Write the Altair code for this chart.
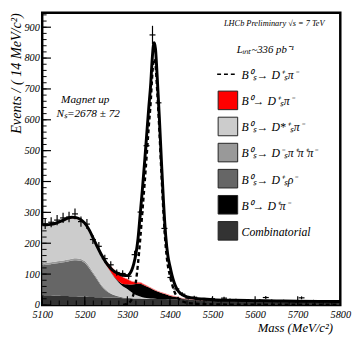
import altair as alt
import pandas as pd
import numpy as np

# ---------------- data ----------------
# background component grid (MeV/c^2)
mass_grid = [5100, 5110, 5120, 5130, 5140, 5150, 5160, 5170, 5180, 5190,
             5200, 5210, 5220, 5230, 5240, 5250, 5260, 5270, 5280, 5290,
             5300, 5310, 5320, 5330, 5340, 5350, 5360, 5370, 5380, 5390,
             5400, 5410, 5420, 5430, 5440, 5450, 5460,
             5480, 5500, 5550, 5600, 5650, 5700, 5750, 5800]

comb = [32, 31, 31, 30, 30, 29, 29, 28, 28, 27,
        27, 26, 26, 25, 25, 24, 24, 23, 23, 22,
        22, 22, 21, 21, 20, 20, 20, 19, 19, 19,
        18, 18, 18, 17, 17, 17, 17,
        16, 15, 14, 13, 12, 12, 11, 10]
dsrho = [96, 99, 101, 104, 106, 109, 112, 116, 117, 116,
         109, 94, 74, 55, 35, 22, 13, 8, 4, 2,
         1, 0, 0, 0, 0, 0, 0, 0, 0, 0,
         0, 0, 0, 0, 0, 0, 0,
         0, 0, 0, 0, 0, 0, 0, 0]
dspipipi = [6, 6, 6, 6, 6, 6, 6, 6, 6, 6,
            6, 6, 5, 5, 4, 3, 2, 1, 1, 0,
            0, 0, 0, 0, 0, 0, 0, 0, 0, 0,
            0, 0, 0, 0, 0, 0, 0,
            0, 0, 0, 0, 0, 0, 0, 0]
dsstar = [124, 122, 121, 122, 125, 129, 131, 131, 129, 125,
          120, 114, 107, 98, 91, 81, 69, 56, 44, 36,
          29, 19, 11, 6, 3, 2, 1, 0, 0, 0,
          0, 0, 0, 0, 0, 0, 0,
          0, 0, 0, 0, 0, 0, 0, 0]
b0dpi = [0, 0, 0, 0, 0, 0, 0, 0, 0, 0,
         0, 0, 0, 0, 0, 0, 1, 2, 4, 8,
         15, 25, 36, 42, 40, 35, 29, 25, 20, 16,
         12, 9, 6, 4, 2, 1, 0,
         0, 0, 0, 0, 0, 0, 0, 0]
b0dspi = [0, 0, 0, 0, 0, 0, 0, 0, 0, 0,
          0, 0, 1, 3, 7, 12, 18, 22, 24, 22,
          17, 11, 6, 4, 3, 2, 2, 1, 1, 1,
          1, 1, 1, 0, 0, 0, 0,
          0, 0, 0, 0, 0, 0, 0, 0]

# signal (dashed)
sig_mass = [5290, 5300, 5305, 5310, 5315, 5320, 5325, 5330, 5335, 5340,
            5345, 5350, 5355, 5358, 5361, 5363, 5366, 5370, 5375, 5380,
            5385, 5390, 5395, 5400, 5405, 5410, 5415, 5420, 5430, 5440,
            5450, 5460, 5480, 5500, 5550, 5600, 5700, 5800]
sig_val = [0, 4, 8, 18, 38, 75, 135, 210, 298, 385,
           477, 573, 662, 734, 786, 797, 778, 695, 568, 425,
           293, 190, 128, 95, 67, 45, 30, 20, 11, 7,
           5, 4, 3, 2, 1, 0.5, 0.5, 0.5]

# total fit (solid)
tot_mass = [5100, 5110, 5120, 5130, 5140, 5150, 5160, 5170, 5180, 5190,
            5200, 5210, 5220, 5230, 5240, 5250, 5260, 5270, 5280, 5290,
            5300, 5305, 5310, 5315, 5320, 5325, 5330, 5335, 5340, 5345,
            5350, 5355, 5358, 5361, 5363, 5366, 5370, 5375, 5380, 5385,
            5390, 5395, 5400, 5405, 5410, 5415, 5420, 5430, 5440, 5450,
            5460, 5480, 5500, 5550, 5600, 5650, 5700, 5750, 5800]
tot_val = [260, 260, 261, 264, 269, 275, 281, 284, 283, 277,
           265, 244, 216, 187, 160, 137, 120, 108, 101, 96,
           95, 100, 112, 133, 165, 215, 292, 370, 455, 545,
           635, 720, 790, 840, 850, 830, 740, 610, 465, 330,
           225, 160, 125, 95, 72, 55, 44, 32, 26, 23,
           21, 19, 17, 15, 14, 13, 12, 11.5, 11]

# data histogram, 14 MeV bins
bin_lo = 5100
bin_width = 14
counts = [262, 268, 275, 282, 285, 295, 270, 262, 212, 190,
          150, 130, 105, 102, 93, 163, 301, 516, 875, 655,
          248, 89, 52, 35, 22, 25, 18, 16, 20, 14,
          22, 17, 16, 13, 14, 12, 15, 24, 14, 12,
          13, 12, 11, 23, 12, 13, 10, 12, 11, 9]

x_ticks_major = [5100, 5200, 5300, 5400, 5500, 5600, 5700, 5800]
y_ticks_major = [0, 100, 200, 300, 400, 500, 600, 700, 800, 900]

legend_labels = ["B⁰ₛ→ D⁺ₛπ⁻", "B⁰→ D⁺ₛπ⁻", "B⁰ₛ→ D*⁺ₛπ⁻", "B⁰ₛ→ D⁻ₛπ⁺π⁺π⁻",
                 "B⁰ₛ→ D⁺ₛρ⁻", "B⁰→ D⁺π⁻", "Combinatorial"]
legend_colors = [None, "#ff0000", "#cccccc", "#999999", "#666666", "#000000", "#333333"]

# ---------------- build tables ----------------
W, H = 305, 299
YMAX = 947
FONT = "Liberation Serif"

xs = alt.Scale(domain=[5100, 5800], nice=False, zero=False)
ys = alt.Scale(domain=[0, YMAX], nice=False, zero=False)

x_axis = alt.Axis(
    values=x_ticks_major, format="d", title="Mass (MeV/c²)",
    labelFont=FONT, labelFontStyle="italic", labelFontSize=10.5, labelColor="black",
    labelPadding=5, ticks=False, domain=False, grid=False, labelFlush=False,
    titleFont=FONT, titleFontStyle="italic", titleFontWeight="normal", titleFontSize=13,
    titleColor="black", titleAlign="right", titleAnchor="end", titleX=W - 8, titleY=27,
    titleBaseline="alphabetic")
y_axis = alt.Axis(
    values=y_ticks_major, format="d", title="Events / ( 14 MeV/c²)",
    labelFont=FONT, labelFontStyle="italic", labelFontSize=10.5, labelColor="black",
    labelPadding=3, ticks=False, domain=False, grid=False, labelFlush=False,
    titleFont=FONT, titleFontStyle="italic", titleFontWeight="normal", titleFontSize=14.5,
    titleColor="black", titleAngle=270, titleAlign="right", titleBaseline="middle",
    titleX=-26, titleY=0)

stack_order = [("comb", comb, "#333333"), ("dsrho", dsrho, "#666666"),
               ("dspipipi", dspipipi, "#999999"), ("dsstar", dsstar, "#cccccc"),
               ("b0dpi", b0dpi, "#000000"), ("b0dspi", b0dspi, "#ff0000")]
rows = []
cum = np.zeros(len(mass_grid))
for name, vals, col in stack_order:
    lo = cum.copy()
    cum = cum + np.array(vals, dtype=float)
    for m, a, b in zip(mass_grid, lo, cum):
        rows.append({"mass": m, "lo": a, "hi": b, "comp": name})
stack_df = pd.DataFrame(rows)
top_df = pd.DataFrame({"mass": mass_grid, "top": cum})

sig_df = pd.DataFrame({"mass": sig_mass, "val": sig_val})
tot_df = pd.DataFrame({"mass": tot_mass, "val": tot_val})

centers = [bin_lo + bin_width * (i + 0.5) for i in range(len(counts))]
c = np.array(counts, dtype=float)
data_df = pd.DataFrame({"m": centers, "n": c,
                        "nlo": c - np.sqrt(c), "nhi": c + np.sqrt(c),
                        "mlo": np.array(centers) - bin_width / 2,
                        "mhi": np.array(centers) + bin_width / 2})

X = lambda f: alt.X(f, type="quantitative", scale=xs, axis=x_axis)
Y = lambda f: alt.Y(f, type="quantitative", scale=ys, axis=y_axis)

areas = alt.Chart(stack_df).mark_area(interpolate="monotone").encode(
    x=X("mass"), y=Y("hi"), y2="lo",
    color=alt.Color("comp:N", scale=alt.Scale(domain=[s[0] for s in stack_order],
                                              range=[s[2] for s in stack_order]), legend=None),
)
red_edge = alt.Chart(top_df).mark_line(interpolate="monotone", color="#f4a0a0", strokeWidth=0.8).encode(
    x=X("mass"), y=Y("top"))

sig_line = alt.Chart(sig_df).mark_line(interpolate="monotone", color="black", strokeWidth=2.4,
                                       strokeDash=[4, 3]).encode(x=X("mass"), y=Y("val"))
tot_line = alt.Chart(tot_df).mark_line(interpolate="monotone", color="black", strokeWidth=3).encode(
    x=X("mass"), y=Y("val"))

err_v = alt.Chart(data_df).mark_rule(color="black", strokeWidth=1.2).encode(
    x=X("m"), y=Y("nlo"), y2="nhi")
err_h = alt.Chart(data_df).mark_rule(color="black", strokeWidth=1.2).encode(
    x=X("mlo"), x2="mhi", y=Y("n"))

# inward ticks
x_minor = [v for v in range(5100, 5801, 20)]
y_minor = [v for v in range(0, 941, 20)]
xt_major = alt.Chart(pd.DataFrame({"t": x_ticks_major})).mark_rule(color="black", strokeWidth=1.2).encode(
    x=X("t"), y=alt.value(H), y2=alt.value(H - 9))
xt_minor = alt.Chart(pd.DataFrame({"t": x_minor})).mark_rule(color="black", strokeWidth=1).encode(
    x=X("t"), y=alt.value(H), y2=alt.value(H - 4.5))
yt_major = alt.Chart(pd.DataFrame({"t": y_ticks_major})).mark_rule(color="black", strokeWidth=1.2).encode(
    y=Y("t"), x=alt.value(0), x2=alt.value(9))
yt_minor = alt.Chart(pd.DataFrame({"t": y_minor})).mark_rule(color="black", strokeWidth=1).encode(
    y=Y("t"), x=alt.value(0), x2=alt.value(4.5))

def txt(s, x, y, size, align="left"):
    return alt.Chart(pd.DataFrame({"s": [s]})).mark_text(
        font=FONT, fontStyle="italic", fontSize=size, align=align, baseline="alphabetic",
        color="black").encode(text="s:N", x=alt.value(x), y=alt.value(y))

texts = [
    txt("LHCb Preliminary  √s = 7 TeV", 186, 14, 8.5),
    txt("Lᵢₙₜ~336 pb⁻¹", 199, 41, 11),
    txt("Magnet up", 44, 92, 11.5, "center"),
    txt("Nₛ=2678 ± 72", 47, 107, 11.5, "center"),
]

# legend
leg_layers = []
leg_y0, leg_dy = 63, 26.7
for i, (lab, col) in enumerate(zip(legend_labels, legend_colors)):
    yy = leg_y0 + i * leg_dy
    if col is None:
        leg_layers.append(alt.Chart(pd.DataFrame({"k": [0]})).mark_rule(
            color="black", strokeWidth=1.5, strokeDash=[4, 3]).encode(
            x=alt.value(179), x2=alt.value(200), y=alt.value(yy)))
    else:
        leg_layers.append(alt.Chart(pd.DataFrame({"k": [0]})).mark_rect(
            fill=col, stroke="#222222", strokeWidth=1).encode(
            x=alt.value(180), x2=alt.value(200), y=alt.value(yy - 9.5), y2=alt.value(yy + 9.5)))
    leg_layers.append(alt.Chart(pd.DataFrame({"s": [lab]})).mark_text(
        font=FONT, fontStyle="italic", fontSize=12, align="left", baseline="middle",
        color="black").encode(text="s:N", x=alt.value(204), y=alt.value(yy + 1)))

chart = alt.layer(
    areas, red_edge, sig_line, tot_line, err_v, err_h,
    xt_major, xt_minor, yt_major, yt_minor, *texts, *leg_layers
).properties(
    width=W, height=H,
    autosize=alt.AutoSizeParams(type="none"),
    padding={"left": 35, "top": 1, "right": 13, "bottom": 30},
    background="white",
).configure_view(stroke="black", strokeWidth=2.5)

chart.save("out.html", embed_options={"renderer": "svg", "actions": False})
